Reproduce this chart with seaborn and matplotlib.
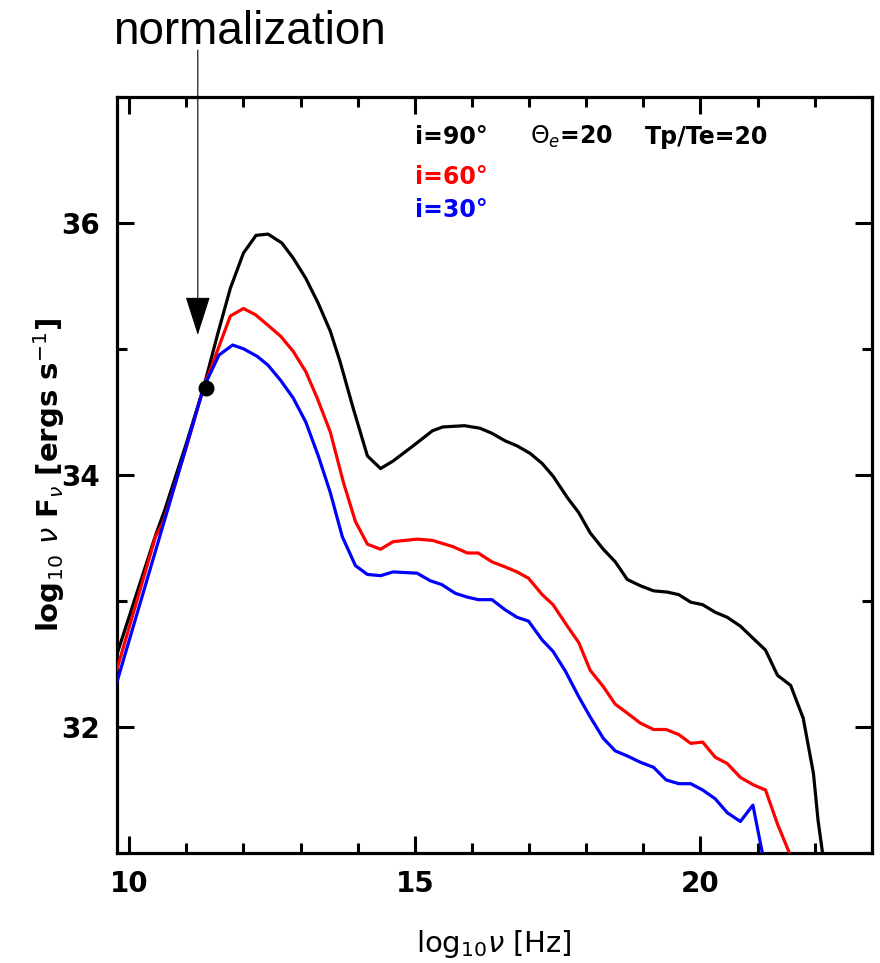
import numpy as np
import pandas as pd
import matplotlib
matplotlib.use("Agg")
import matplotlib.pyplot as plt
import seaborn as sns
from matplotlib.ticker import MultipleLocator, FixedLocator

# ---- data (log10 nu, log10 nu F_nu) ----
x_90 = [9.78, 10.46, 10.62, 11.0, 11.30, 11.55, 11.77, 12.0, 12.22, 12.43, 12.67, 12.87, 13.09, 13.31,
        13.52, 13.69, 13.92, 14.17, 14.40, 14.62, 14.97, 15.31, 15.49, 15.87, 16.14, 16.35, 16.58, 16.79,
        17.02, 17.23, 17.42, 17.67, 17.87, 18.07, 18.30, 18.51, 18.72, 18.95, 19.18, 19.42, 19.62, 19.83,
        20.04, 20.26, 20.47, 20.70, 20.93, 21.14, 21.35, 21.58, 21.80, 21.98, 22.06, 22.20]
y_90 = [32.57, 33.52, 33.72, 34.25, 34.69, 35.12, 35.48, 35.76, 35.90, 35.91, 35.84, 35.72, 35.56, 35.36,
        35.14, 34.90, 34.53, 34.15, 34.05, 34.11, 34.23, 34.35, 34.38, 34.39, 34.37, 34.33, 34.27, 34.23,
        34.17, 34.09, 33.99, 33.82, 33.70, 33.54, 33.41, 33.31, 33.17, 33.12, 33.08, 33.07, 33.05, 32.99,
        32.97, 32.91, 32.87, 32.80, 32.70, 32.61, 32.41, 32.33, 32.07, 31.63, 31.26, 30.80]

x_60 = [9.78, 10.46, 10.60, 11.0, 11.30, 11.77, 12.0, 12.21, 12.42, 12.65, 12.87, 13.09, 13.29, 13.52,
        13.75, 13.96, 14.17, 14.40, 14.62, 15.04, 15.31, 15.67, 15.92, 16.11, 16.35, 16.58, 16.79, 16.99,
        17.23, 17.42, 17.67, 17.87, 18.07, 18.30, 18.51, 18.72, 18.95, 19.18, 19.40, 19.62, 19.83, 20.04,
        20.26, 20.47, 20.70, 20.93, 21.14, 21.35, 21.65]
y_60 = [32.45, 33.51, 33.63, 34.22, 34.69, 35.26, 35.32, 35.27, 35.19, 35.10, 34.98, 34.82, 34.61, 34.34,
        33.94, 33.63, 33.45, 33.41, 33.47, 33.49, 33.48, 33.43, 33.38, 33.38, 33.31, 33.27, 33.23, 33.18,
        33.05, 32.97, 32.80, 32.67, 32.45, 32.32, 32.18, 32.11, 32.03, 31.98, 31.98, 31.94, 31.87, 31.88,
        31.76, 31.71, 31.60, 31.54, 31.50, 31.23, 30.90]

x_30 = [9.78, 11.30, 11.57, 11.81, 12.0, 12.24, 12.43, 12.65, 12.87, 13.09, 13.31, 13.52, 13.73, 13.96,
        14.17, 14.40, 14.62, 15.04, 15.27, 15.47, 15.71, 15.92, 16.11, 16.35, 16.58, 16.79, 16.99, 17.23,
        17.42, 17.64, 17.87, 18.07, 18.30, 18.51, 18.72, 18.95, 19.18, 19.40, 19.62, 19.83, 20.04, 20.26,
        20.47, 20.70, 20.92, 21.15]
y_30 = [32.35, 34.69, 34.95, 35.03, 35.00, 34.94, 34.87, 34.75, 34.61, 34.42, 34.15, 33.86, 33.51, 33.28,
        33.21, 33.20, 33.23, 33.22, 33.16, 33.13, 33.06, 33.03, 33.01, 33.01, 32.93, 32.87, 32.84, 32.69,
        32.60, 32.44, 32.24, 32.08, 31.91, 31.81, 31.77, 31.72, 31.68, 31.58, 31.55, 31.55, 31.50, 31.43,
        31.32, 31.25, 31.38, 30.85]

labels = ["i=90°", "i=60°", "i=30°"]
colors = ["#000000", "#ff0000", "#0000ff"]
norm_point = (11.35, 34.69)
x_ticks = [10, 15, 20]
y_ticks = [32, 34, 36]

df = pd.concat([
    pd.DataFrame({"x": x_90, "y": y_90, "series": labels[0]}),
    pd.DataFrame({"x": x_60, "y": y_60, "series": labels[1]}),
    pd.DataFrame({"x": x_30, "y": y_30, "series": labels[2]}),
], ignore_index=True)

sns.set_style("ticks")
plt.rcParams['font.family'] = ['DejaVu Sans']
plt.rcParams.update({"text.color": "black", "axes.labelcolor": "black", "axes.edgecolor": "black",
                     "xtick.color": "black", "ytick.color": "black"})

fig = plt.figure(figsize=(8.8, 9.63), dpi=100)
ax = fig.add_axes([0.1326, 0.1142, 0.858, 0.7854])

sns.lineplot(data=df, x="x", y="y", hue="series", palette=dict(zip(labels, colors)),
             estimator=None, sort=False, linewidth=2.3, legend=False, ax=ax, zorder=3)

ax.scatter([norm_point[0]], [norm_point[1]], s=110, color="black", zorder=5)

ax.set_xlim(9.78, 23.0)
ax.set_ylim(31.0, 37.0)

ax.xaxis.set_major_locator(FixedLocator(x_ticks))
ax.xaxis.set_minor_locator(MultipleLocator(1))
ax.yaxis.set_major_locator(FixedLocator(y_ticks))
ax.yaxis.set_minor_locator(MultipleLocator(1))
ax.set_xticklabels([str(t) for t in x_ticks])
ax.set_yticklabels([str(t) for t in y_ticks])

ax.tick_params(which="both", direction="in", top=True, right=True, width=2.2, labelsize=20,
               colors="black")
ax.tick_params(which="major", length=12, pad=12)
ax.tick_params(which="minor", length=7)
for lab in ax.get_xticklabels() + ax.get_yticklabels():
    lab.set_fontweight("bold")
for s in ax.spines.values():
    s.set_linewidth(2.3)
    s.set_color("black")
    s.set_visible(True)

ax.set_xlabel(r"log$_{10}\nu$ [Hz]", fontsize=21, labelpad=22, color="black")
ax.set_ylabel(r"log$_{10}$ $\nu$ F$_{\nu}$ [ergs s$^{-1}$]", fontsize=21, fontweight="bold",
              labelpad=-4, color="black")

txt_kw = dict(fontsize=17, fontweight="bold", va="center", ha="left")
ax.text(15.0, 36.68, labels[0], color=colors[0], **txt_kw)
ax.text(15.0, 36.36, labels[1], color=colors[1], **txt_kw)
ax.text(15.0, 36.10, labels[2], color=colors[2], **txt_kw)
ax.text(17.02, 36.68, r"$\Theta_e$=20", color="black", **txt_kw)
ax.text(19.03, 36.68, "Tp/Te=20", color="black", **txt_kw)

fig.text(0.128, 0.954, "normalization", fontsize=33, family="Liberation Sans", ha="left",
         va="baseline", color="black")
ax.annotate("", xy=(11.20, 35.11), xycoords="data",
            xytext=(11.20, 0.948), textcoords=("data", "figure fraction"),
            arrowprops=dict(arrowstyle="-|>,head_length=1.25,head_width=0.4", mutation_scale=20,
                            color="black", lw=0.8, shrinkA=0, shrinkB=0),
            annotation_clip=False)

fig.savefig("out.png", dpi=100)
